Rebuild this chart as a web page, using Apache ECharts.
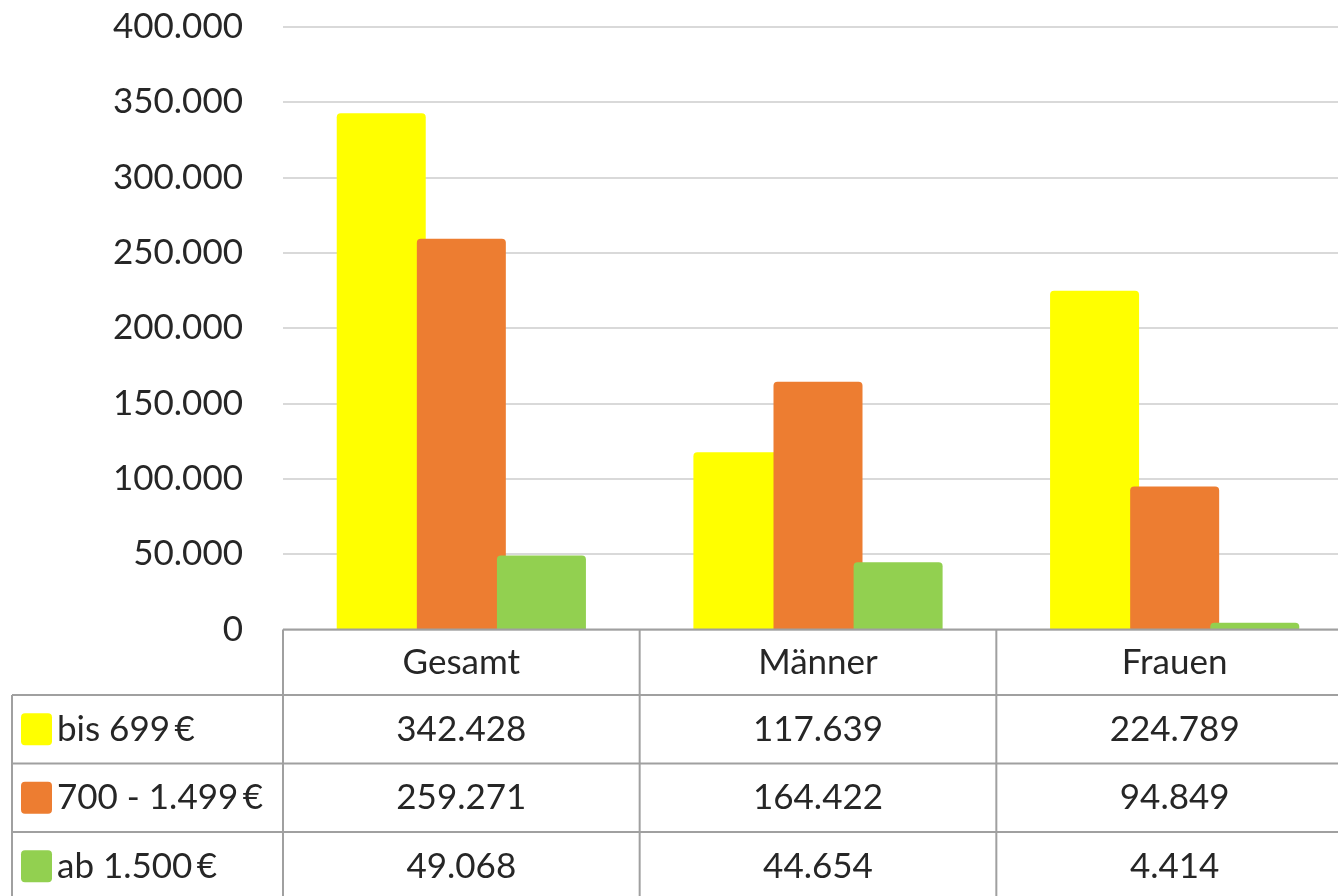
<!DOCTYPE html>
<html><head><meta charset="utf-8">
<script src="https://cdn.jsdelivr.net/npm/echarts@6/dist/echarts.min.js"></script>
<style>html,body{margin:0;padding:0;background:#fff;overflow:hidden;width:1338px;height:896px}#c{width:1400px;height:896px}</style>
</head><body><div id="c"></div>
<script>
const categories = ['Gesamt', 'Männer', 'Frauen'];
const seriesNames = ['bis 699\u2009€', '700 - 1.499\u2009€', 'ab 1.500\u2009€'];
const bis699 = [342428, 117639, 224789];
const mid = [259271, 164422, 94849];
const ab1500 = [49068, 44654, 4414];
const yTicks = [0, 50000, 100000, 150000, 200000, 250000, 300000, 350000, 400000];
const colors = ['#FFFF00', '#ED7D31', '#92D050'];
const seriesData = [bis699, mid, ab1500];

const FONT = 'Lato';
const fmt = v => String(v).replace(/\B(?=(\d{3})+(?!\d))/g, '.');

const chart = echarts.init(document.getElementById('c'), null, {renderer: 'canvas'});
const GL = 283, GT = 26.5, GW = 1070, GH = 603;
chart.setOption({
  animation: false,
  grid: {left: GL, top: GT, width: GW, height: GH, containLabel: false},
  xAxis: {type: 'category', data: categories, axisLine: {show: false}, axisTick: {show: false}, axisLabel: {show: false}},
  yAxis: {type: 'value', min: yTicks[0], max: yTicks[yTicks.length - 1], interval: 50000,
    axisLabel: {formatter: fmt, fontFamily: FONT, fontSize: 35, color: '#262626', margin: 40},
    splitLine: {lineStyle: {color: '#D9D9D9', width: 2}}, axisLine: {show: false}, axisTick: {show: false}},
  series: seriesData.map((d, i) => ({
    name: seriesNames[i], type: 'bar', data: d, barWidth: 89, barGap: '-10%',
    itemStyle: {color: colors[i], borderRadius: [4, 4, 0, 0]}
  }))
});

// data table below the plot
const lineC = '#A0A0A0', lw = 2;
const top0 = 629.5, headH = 65.5, rowH = 68.5;
const leftX = 12, right = 1400;
const g = [];
const bounds = categories.map((c, i) => chart.convertToPixel({xAxisIndex: 0}, i));
const step = bounds.length > 1 ? bounds[1] - bounds[0] : GW;
const edges = [bounds[0] - step / 2].concat(bounds.map(b => b + step / 2));
g.push({type: 'line', z: 100, shape: {x1: edges[0], y1: top0, x2: right, y2: top0}, style: {stroke: lineC, lineWidth: lw}});
for (let r = 0; r <= seriesNames.length; r++) {
  const y = top0 + headH + r * rowH;
  g.push({type: 'line', shape: {x1: leftX, y1: y, x2: right, y2: y}, style: {stroke: lineC, lineWidth: lw}});
}
const bottom = top0 + headH + seriesNames.length * rowH + 20;
edges.forEach(x => g.push({type: 'line', shape: {x1: x, y1: top0, x2: x, y2: bottom}, style: {stroke: lineC, lineWidth: lw}}));
g.push({type: 'line', shape: {x1: leftX, y1: top0 + headH, x2: leftX, y2: bottom}, style: {stroke: lineC, lineWidth: lw}});
categories.forEach((c, i) => g.push({type: 'text', x: bounds[i], y: top0 + headH / 2,
  style: {text: c, font: '35px ' + FONT, fill: '#262626', align: 'center', verticalAlign: 'middle'}}));
seriesNames.forEach((n, r) => {
  const yc = top0 + headH + r * rowH + rowH / 2;
  g.push({type: 'rect', shape: {x: 21, y: yc - 16, width: 31, height: 32, r: 4}, style: {fill: colors[r]}});
  g.push({type: 'text', x: 57, y: yc, style: {text: n, font: '35px ' + FONT, fill: '#262626', align: 'left', verticalAlign: 'middle'}});
  seriesData[r].forEach((v, i) => g.push({type: 'text', x: bounds[i], y: yc,
    style: {text: fmt(v), font: '35px ' + FONT, fill: '#262626', align: 'center', verticalAlign: 'middle'}}));
});
chart.setOption({graphic: g});
</script></body></html>
